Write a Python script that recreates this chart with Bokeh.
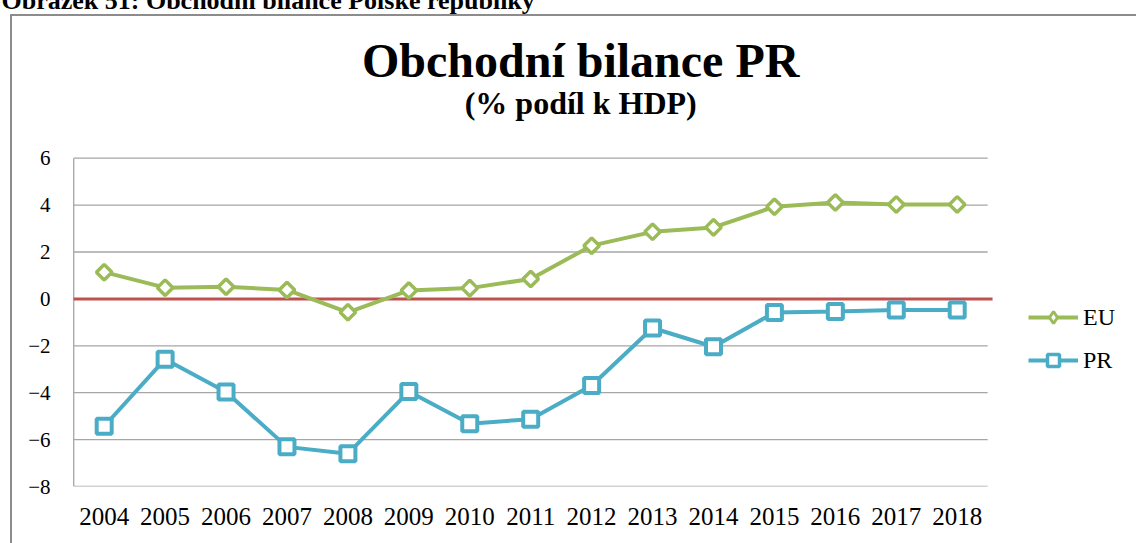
import math
from bokeh.plotting import figure
from bokeh.models import Title, Label, Legend, LegendItem, FixedTicker, Range1d
from bokeh.embed import file_html
from bokeh.resources import INLINE

years = ["2004", "2005", "2006", "2007", "2008", "2009", "2010", "2011",
         "2012", "2013", "2014", "2015", "2016", "2017", "2018"]
eu = [1.14, 0.48, 0.52, 0.38, -0.57, 0.36, 0.46, 0.85, 2.27, 2.86, 3.05, 3.93, 4.11, 4.03, 4.03]
pr = [-5.43, -2.57, -3.97, -6.31, -6.6, -3.95, -5.32, -5.13, -3.69, -1.24, -2.04, -0.58, -0.54, -0.47, -0.47]
y_ticks = [-8, -6, -4, -2, 0, 2, 4, 6]
series_names = ["EU", "PR"]
title_text = "Obchodní bilance PR"
subtitle_text = "(% podíl k HDP)"
caption_text = "Obrázek 51: Obchodní bilance Polské republiky"

SERIF = "Liberation Serif"
GREEN = "#9bbb59"
BLUE = "#4bacc6"
RED = "#c0504d"
GRID = "#a6a6a6"
FRAME = "#8c8c8c"

# ---- layout (canvas pixels; canvas is shifted 24px above the page top) ----
SHIFT = 24
W, H = 1136, 543 + SHIFT
LEFT, TOP = 72, 44
PLOT_TOP, PLOT_BOTTOM = 157 + SHIFT, 486 + SHIFT   # canvas y of y=6 and y=-8
BOTTOM = H - PLOT_BOTTOM
CAT_W = 60.93                                       # px per year slot
x_start = -0.02
x_end = x_start + (W - LEFT) / CAT_W
ppu = (PLOT_BOTTOM - PLOT_TOP) / (y_ticks[-1] - y_ticks[0])
y_top = y_ticks[-1] + (PLOT_TOP - TOP) / ppu

xs = [i + 0.5 for i in range(len(years))]
n = len(years)

p = figure(x_range=Range1d(x_start, x_end), y_range=Range1d(y_ticks[0], y_top),
           width=W, height=H, output_backend="svg", toolbar_location=None,
           min_border_left=LEFT, min_border_right=0, min_border_top=TOP, min_border_bottom=BOTTOM,
           title=Title(text=caption_text, align="left", offset=-71, standoff=14,
                       text_font=SERIF, text_font_style="bold", text_font_size="26px",
                       text_color="black"))
p.styles = {
    "margin-top": f"-{SHIFT}px",
    "background-image": f"linear-gradient({FRAME}, {FRAME}), linear-gradient({FRAME}, {FRAME})",
    "background-repeat": "no-repeat",
    "background-size": "2px 100%, 100% 2px",
    "background-position": f"10px {14 + SHIFT}px, 10px {14 + SHIFT}px",
}
p.outline_line_color = None
p.background_fill_alpha = 0
p.border_fill_alpha = 0
p.xgrid.visible = False
p.ygrid.visible = False

p.xaxis.ticker = FixedTicker(ticks=xs)
p.xaxis.major_label_overrides = {x: y for x, y in zip(xs, years)}
p.yaxis.ticker = FixedTicker(ticks=y_ticks)
for ax in (p.xaxis[0], p.yaxis[0]):
    ax.axis_line_color = None
    ax.major_tick_line_color = None
    ax.minor_tick_line_color = None
    ax.major_label_text_font = SERIF
    ax.major_label_text_color = "black"
p.yaxis.major_label_text_font_size = "21px"
p.xaxis.major_label_text_font_size = "25px"
p.yaxis.major_label_standoff = 16
p.xaxis.major_label_standoff = 15

# plot-area grid, value axis line and zero line
p.segment(x0=[0] * len(y_ticks), x1=[n] * len(y_ticks), y0=y_ticks, y1=y_ticks,
          line_color=GRID, line_width=1.3)
p.segment(x0=[0], x1=[0], y0=[y_ticks[0]], y1=[y_ticks[-1]], line_color=GRID, line_width=1.3)
p.segment(x0=[0], x1=[n + 0.08], y0=[0], y1=[0], line_color=RED, line_width=3)

eu_line = p.line(xs, eu, line_color=GREEN, line_width=4)
eu_mark = p.scatter(xs, eu, marker="square", angle=math.pi / 4, size=11,
                    fill_color="white", line_color=GREEN, line_width=3.5)
pr_line = p.line(xs, pr, line_color=BLUE, line_width=4)
pr_mark = p.scatter(xs, pr, marker="square", size=15,
                    fill_color="white", line_color=BLUE, line_width=4)
# legend-only marker styles (Excel draws smaller legend markers)
eu_key = p.scatter(xs, eu, marker="diamond", fill_color="white", line_color=GREEN,
                   line_width=3, visible=False)
pr_key = p.scatter(xs, pr, marker="square", fill_color="white", line_color=BLUE,
                   line_width=3.5, visible=False)

legend = Legend(items=[LegendItem(label=series_names[0], renderers=[eu_line, eu_key]),
                       LegendItem(label=series_names[1], renderers=[pr_line, pr_key])],
                location=(956, 111), glyph_width=50, glyph_height=30, label_height=30,
                label_standoff=5, spacing=13, padding=0, margin=0,
                border_line_color=None, background_fill_alpha=0, inactive_fill_alpha=0,
                label_text_font=SERIF, label_text_font_size="24px", label_text_color="black")
p.add_layout(legend)

p.add_layout(Label(x=n / 2, y=y_top, x_offset=50, y_offset=-(103 - TOP) + 20, text=title_text,
                   text_font=SERIF, text_font_style="bold", text_font_size="48px",
                   text_align="center", text_baseline="alphabetic", text_color="black"))
p.add_layout(Label(x=n / 2, y=y_top, x_offset=50, y_offset=-(142 - TOP) + 17, text=subtitle_text,
                   text_font=SERIF, text_font_style="bold", text_font_size="32px",
                   text_align="center", text_baseline="alphabetic", text_color="black"))

open("out.html", "w").write(file_html(p, INLINE))
